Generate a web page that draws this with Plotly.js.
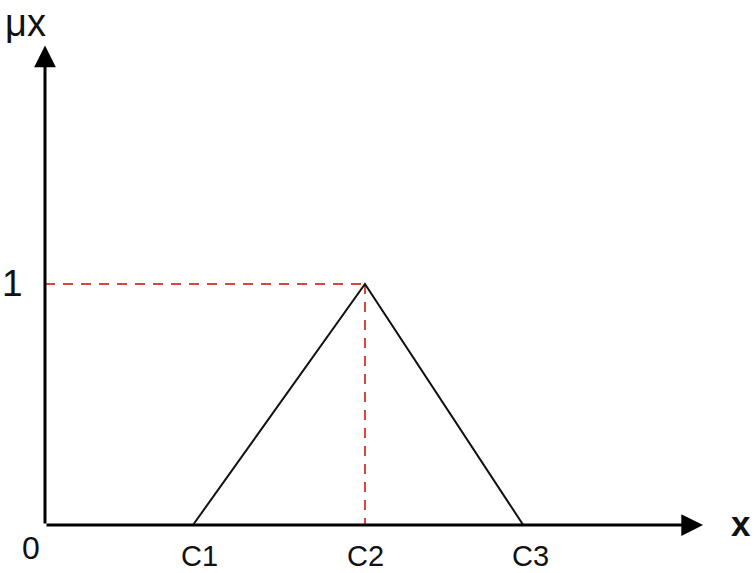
<!DOCTYPE html>
<html>
<head>
<meta charset="utf-8">
<script src="https://cdn.plot.ly/plotly-3.0.1.min.js"></script>
<style>html,body{margin:0;padding:0;background:#fff;}#chart{width:755px;height:573px;}</style>
</head>
<body>
<div id="chart"></div>
<script>
// Data
const xLabels = ['C1', 'C2', 'C3'];
const xVals = [3.02, 6.53, 9.76];
const muVals = [0, 1, 0];
const originLabel = '0';
const yTickLabel = '1';
const yTickVal = 1;
const axisXMax = 13.43;
const axisYMax = 1.99;
const xAxisTitle = 'x';
const yAxisTitle = 'μx';

const font = 'Liberation Sans, Arial, sans-serif';
const peakX = xVals[1];
const peakY = muVals[1];

const traces = [
  // red dashed guide lines
  {x: [0, peakX], y: [peakY, peakY], mode: 'lines', line: {color: '#d8463b', width: 2, dash: '10px,8px'}, hoverinfo: 'skip'},
  {x: [peakX, peakX], y: [peakY, 0], mode: 'lines', line: {color: '#d8463b', width: 2, dash: '10px,8px'}, hoverinfo: 'skip'},
  // triangle membership function
  {x: xVals, y: muVals, mode: 'lines', line: {color: '#111', width: 2}, hoverinfo: 'skip'}
];

const annotations = [
  // axes with arrows
  {x: axisXMax, y: 0, ax: 0, ay: 0, xref: 'x', yref: 'y', axref: 'x', ayref: 'y', showarrow: true, arrowhead: 2, arrowwidth: 3, arrowsize: 1.45, arrowcolor: '#000', text: '', standoff: 0},
  {x: 0, y: axisYMax, ax: 0, ay: 0, xref: 'x', yref: 'y', axref: 'x', ayref: 'y', showarrow: true, arrowhead: 2, arrowwidth: 3, arrowsize: 1.45, arrowcolor: '#000', text: '', standoff: 0},
  // labels
  {x: 0, y: 0, text: originLabel, showarrow: false, xshift: -14, yshift: -23, font: {family: font, size: 32, color: '#111'}},
  {x: 0, y: yTickVal, text: yTickLabel, showarrow: false, xshift: -33, yshift: 1, font: {family: font, size: 37, color: '#111'}},
  {x: 0, y: axisYMax, text: yAxisTitle, showarrow: false, xshift: -20, yshift: 22, font: {family: font, size: 38, color: '#111'}},
  {x: axisXMax, y: 0, text: '<b>' + xAxisTitle + '</b>', showarrow: false, xshift: 38, yshift: 2, font: {family: font, size: 35, color: '#111'}}
];
xLabels.forEach((lab, i) => {
  annotations.push({x: xVals[i], y: 0, text: lab, showarrow: false, xshift: i === 1 ? 1 : 7, yshift: -31, font: {family: font, size: 29, color: '#111'}});
});

const layout = {
  width: 755, height: 573,
  margin: {l: 0, r: 0, t: 0, b: 0},
  paper_bgcolor: '#fff', plot_bgcolor: '#fff',
  showlegend: false,
  xaxis: {range: [-45 / 49, 710 / 49], visible: false, showgrid: false, zeroline: false, fixedrange: true},
  yaxis: {range: [-48 / 241, 525 / 241], visible: false, showgrid: false, zeroline: false, fixedrange: true},
  annotations: annotations
};

Plotly.newPlot('chart', traces, layout, {displayModeBar: false, staticPlot: true});
</script>
</body>
</html>
